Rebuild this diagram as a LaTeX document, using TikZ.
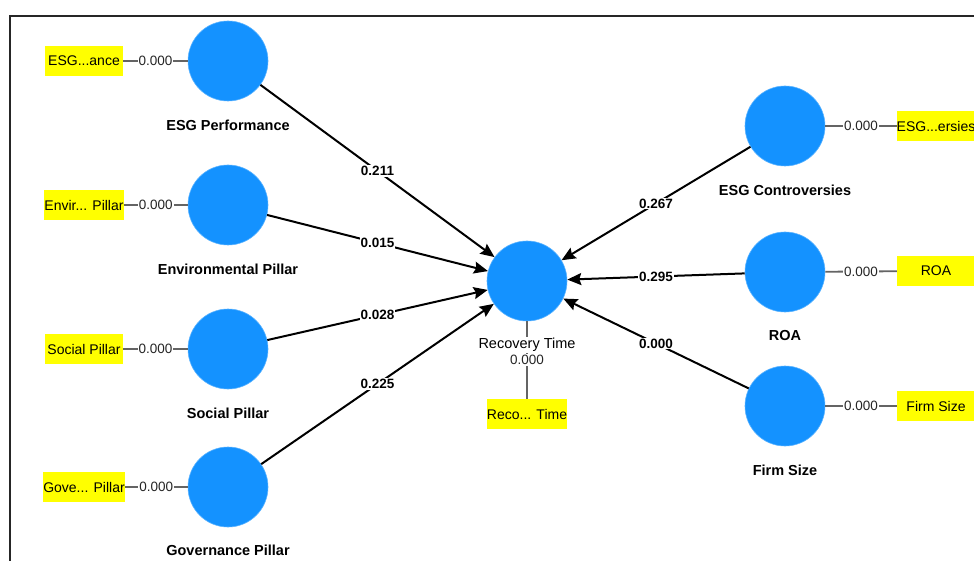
\documentclass[tikz,border=0pt]{standalone}
\usepackage{fontspec}
\setmainfont{Liberation Sans}
\usetikzlibrary{arrows.meta}
\definecolor{lvblue}{RGB}{20,146,255}
\definecolor{boxyellow}{RGB}{255,255,0}
\definecolor{loadgray}{RGB}{100,100,100}
\tikzset{
  latent/.style={circle,fill=lvblue,draw=lvblue!70!white,line width=0.6pt,minimum size=80pt,inner sep=0pt},
  indicator/.style={rectangle,fill=boxyellow,minimum width=78pt,minimum height=30pt,inner sep=0pt,font=\fontsize{14}{15}\selectfont},
  lvname/.style={font=\bfseries\fontsize{14.5}{16}\selectfont,inner sep=1pt},
  pathline/.style={line width=2pt,black,-{Stealth[length=14pt,width=12pt,inset=2pt]}},
  loadline/.style={line width=1.8pt,loadgray},
  coef/.style={fill=white,inner sep=1pt,font=\bfseries\fontsize{13.5}{14}\selectfont},
  load/.style={fill=white,inner sep=1pt,text=black!85,font=\fontsize{13.5}{14}\selectfont},
}
\begin{document}
\begin{tikzpicture}[x=1pt,y=-1pt]
\useasboundingbox (0,0) rectangle (974,561);
% frame
\draw[line width=1.5pt,black!85] (974,16) -- (10,16) -- (10,561);
% latent variables
\node[latent] (perf) at (228,61) {};
\node[latent] (env)  at (228,205) {};
\node[latent] (soc)  at (228,349) {};
\node[latent] (gov)  at (228,487) {};
\node[latent] (rec)  at (527,281) {};
\node[latent] (cont) at (785,126) {};
\node[latent] (roa)  at (785,272) {};
\node[latent] (size) at (785,406) {};
% indicators
\node[indicator] (iperf) at (84,61) {ESG...ance};
\node[indicator] (ienv)  at (84,205) {Envir... Pillar};
\node[indicator] (isoc)  at (84,349) {Social Pillar};
\node[indicator] (igov)  at (84,487) {Gove... Pillar};
\node[indicator] (irec)  at (527,414) {Reco... Time};
\node[indicator] (icont) at (936,126) {ESG...ersies};
\node[indicator] (iroa)  at (936,271) {ROA};
\node[indicator] (isize) at (936,406) {Firm Size};
% loadings
\draw[loadline] (iperf) -- node[load] {0.000} (perf);
\draw[loadline] (ienv) -- node[load] {0.000} (env);
\draw[loadline] (isoc) -- node[load] {0.000} (soc);
\draw[loadline] (igov) -- node[load] {0.000} (gov);
\draw[loadline] (cont) -- node[load] {0.000} (icont);
\draw[loadline] (roa) -- node[load] {0.000} (iroa);
\draw[loadline] (size) -- node[load] {0.000} (isize);
\draw[loadline] (rec) -- node[load,pos=0.5] {0.000} (irec);
% names
\node[lvname] (nperf) at (228,125) {ESG Performance};
\node[lvname] (nenv)  at (228,269) {Environmental Pillar};
\node[lvname] (nsoc)  at (228,413) {Social Pillar};
\node[lvname] (ngov)  at (228,550) {Governance Pillar};
\node[font=\fontsize{14.5}{16}\selectfont,fill=white,inner sep=1pt] (nrec) at (527,345) {Recovery Time};
\node[lvname] (ncont) at (785,190) {ESG Controversies};
\node[lvname] (nroa)  at (785,336) {ROA};
\node[lvname] (nsize) at (785,470) {Firm Size};
% structural paths
\draw[pathline] (perf) -- node[coef] {0.211} (rec);
\draw[pathline] (env)  -- node[coef] {0.015} (rec);
\draw[pathline] (soc)  -- node[coef] {0.028} (rec);
\draw[pathline] (gov)  -- node[coef] {0.225} (rec);
\draw[pathline] (cont) -- node[coef] {0.267} (rec);
\draw[pathline] (roa)  -- node[coef] {0.295} (rec);
\draw[pathline] (size) -- node[coef] {0.000} (rec);
\end{tikzpicture}
\end{document}
